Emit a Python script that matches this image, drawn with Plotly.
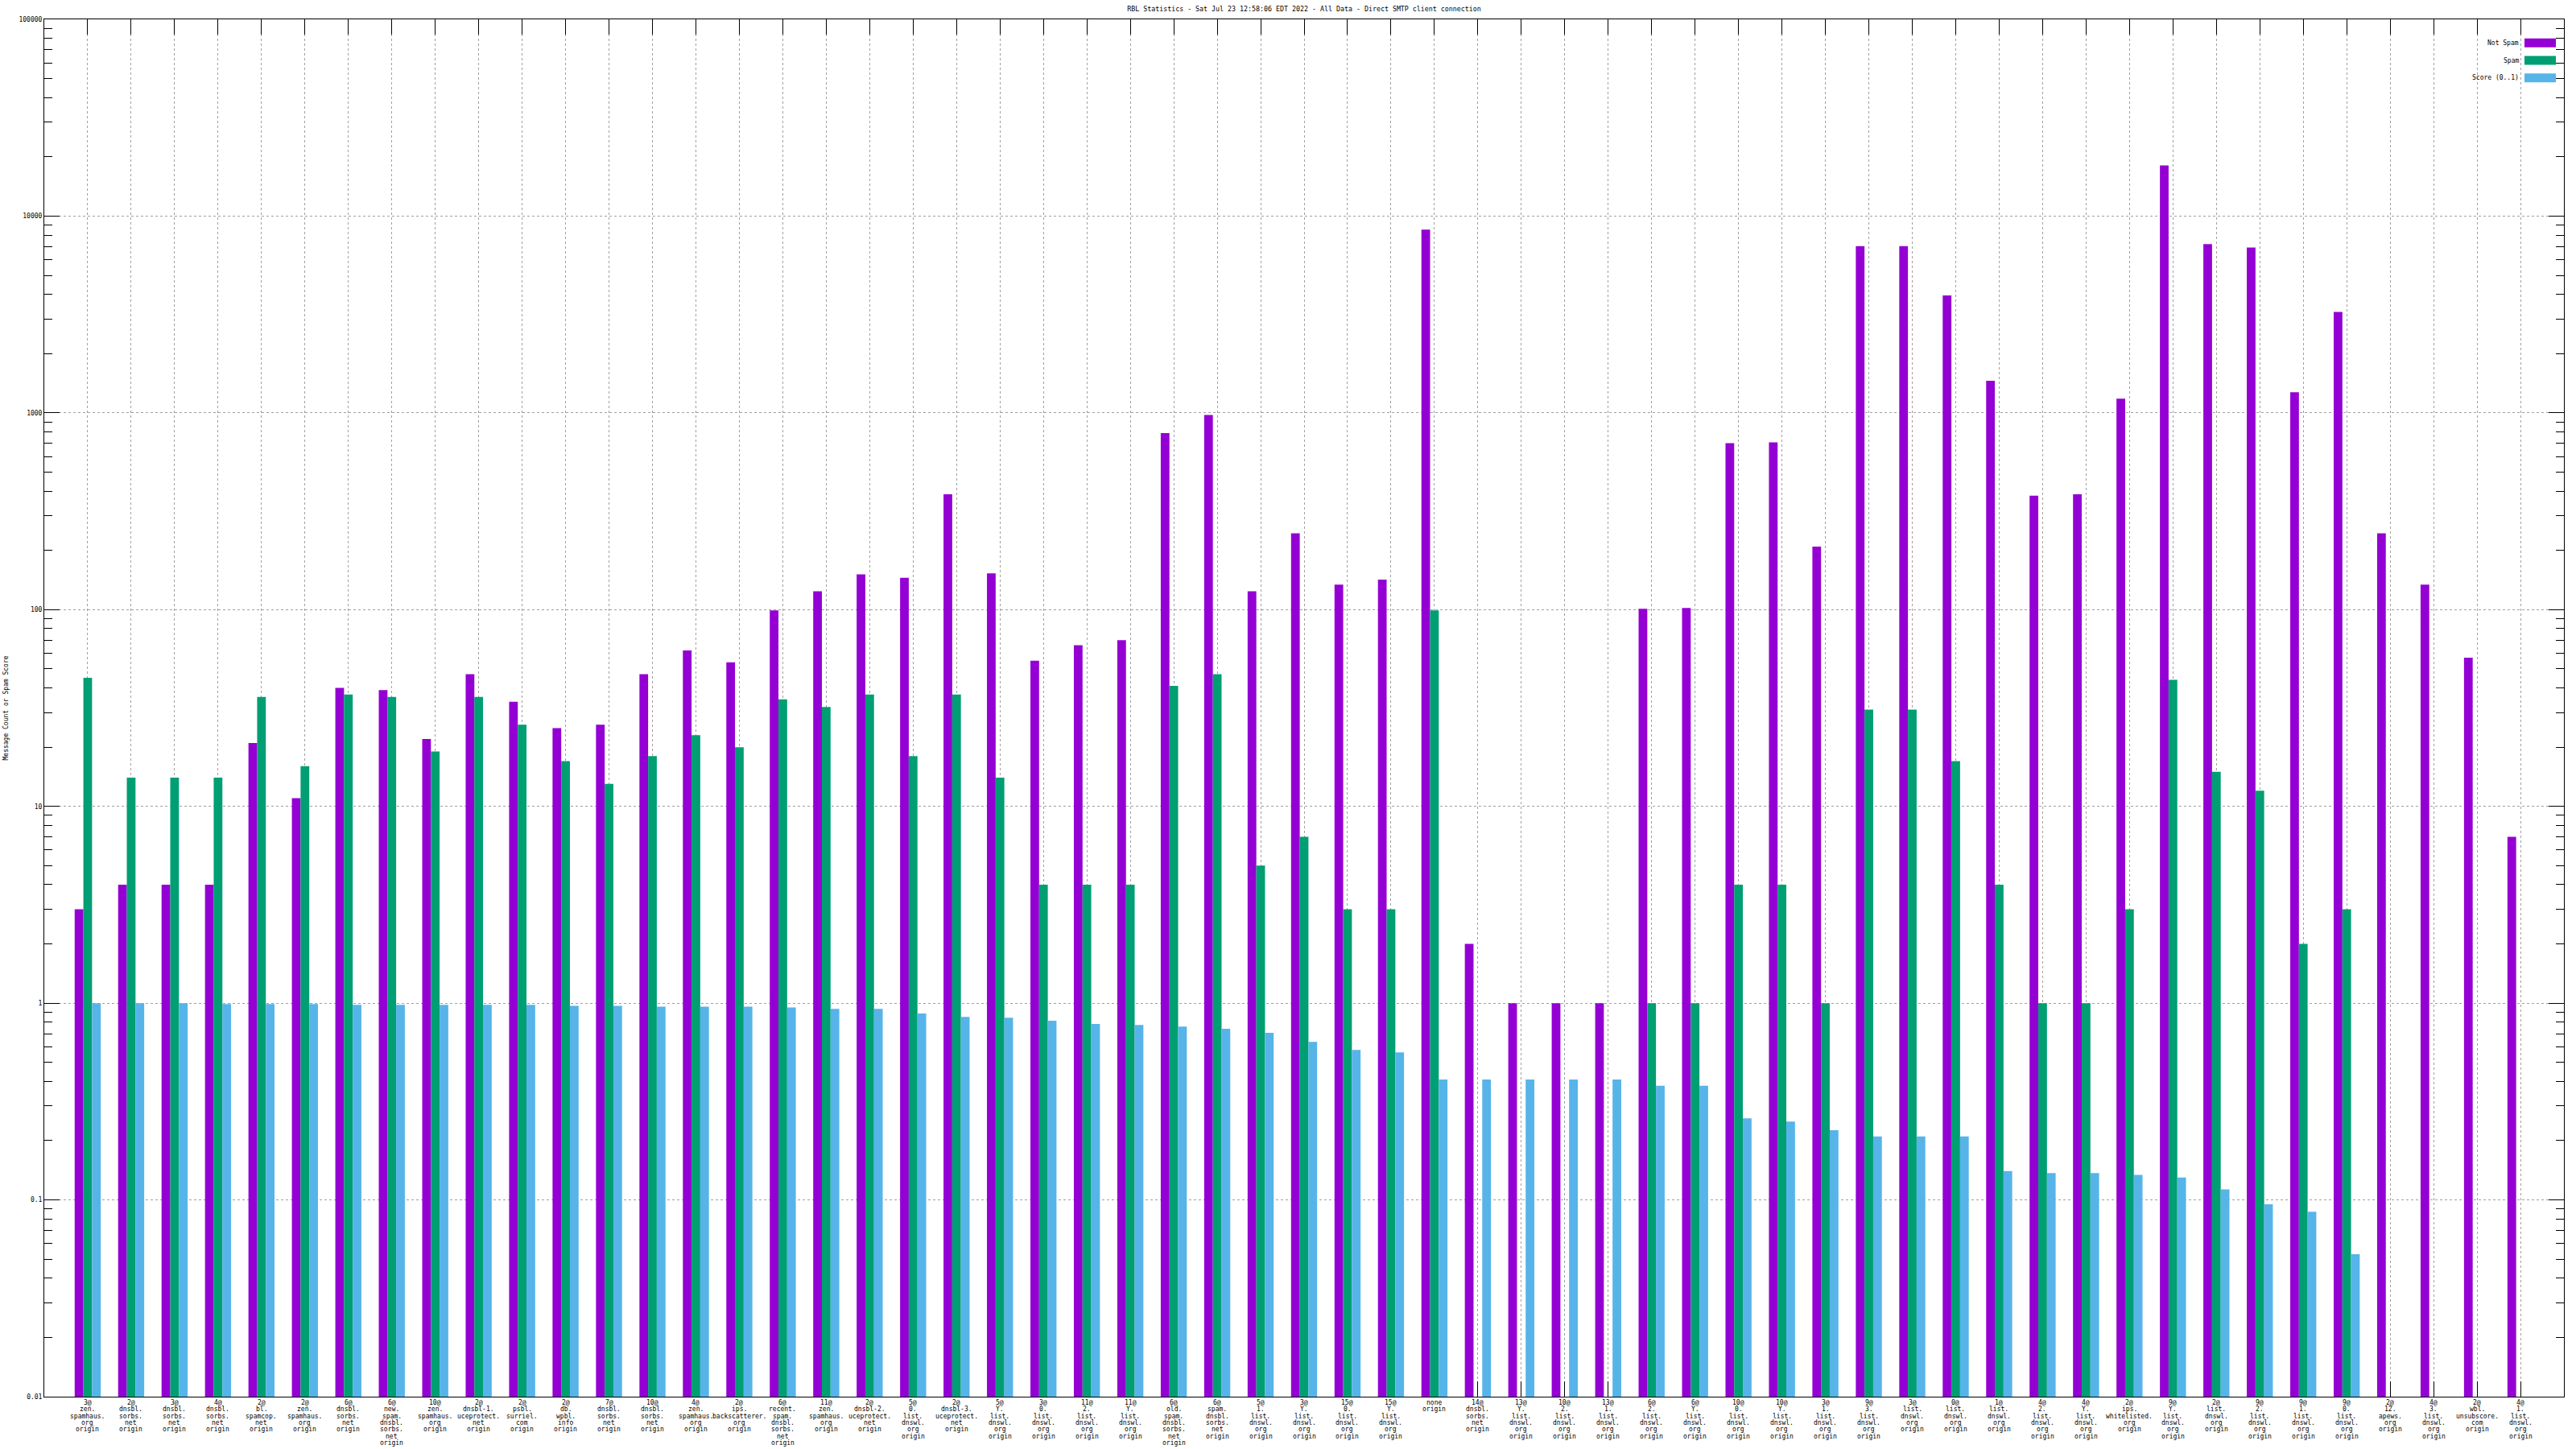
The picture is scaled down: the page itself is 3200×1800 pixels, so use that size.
import plotly.graph_objects as go

labels = [
    "3@\nzen.\nspamhaus.\norg\norigin",
    "2@\ndnsbl.\nsorbs.\nnet\norigin",
    "3@\ndnsbl.\nsorbs.\nnet\norigin",
    "4@\ndnsbl.\nsorbs.\nnet\norigin",
    "2@\nbl.\nspamcop.\nnet\norigin",
    "2@\nzen.\nspamhaus.\norg\norigin",
    "6@\ndnsbl.\nsorbs.\nnet\norigin",
    "6@\nnew.\nspam.\ndnsbl.\nsorbs.\nnet\norigin",
    "10@\nzen.\nspamhaus.\norg\norigin",
    "2@\ndnsbl-1.\nuceprotect.\nnet\norigin",
    "2@\npsbl.\nsurriel.\ncom\norigin",
    "2@\ndb.\nwpbl.\ninfo\norigin",
    "7@\ndnsbl.\nsorbs.\nnet\norigin",
    "10@\ndnsbl.\nsorbs.\nnet\norigin",
    "4@\nzen.\nspamhaus.\norg\norigin",
    "2@\nips.\nbackscatterer.\norg\norigin",
    "6@\nrecent.\nspam.\ndnsbl.\nsorbs.\nnet\norigin",
    "11@\nzen.\nspamhaus.\norg\norigin",
    "2@\ndnsbl-2.\nuceprotect.\nnet\norigin",
    "5@\n0.\nlist.\ndnswl.\norg\norigin",
    "2@\ndnsbl-3.\nuceprotect.\nnet\norigin",
    "5@\nY.\nlist.\ndnswl.\norg\norigin",
    "3@\n0.\nlist.\ndnswl.\norg\norigin",
    "11@\n2.\nlist.\ndnswl.\norg\norigin",
    "11@\nY.\nlist.\ndnswl.\norg\norigin",
    "6@\nold.\nspam.\ndnsbl.\nsorbs.\nnet\norigin",
    "6@\nspam.\ndnsbl.\nsorbs.\nnet\norigin",
    "5@\n1.\nlist.\ndnswl.\norg\norigin",
    "3@\nY.\nlist.\ndnswl.\norg\norigin",
    "15@\n0.\nlist.\ndnswl.\norg\norigin",
    "15@\nY.\nlist.\ndnswl.\norg\norigin",
    "none\norigin",
    "14@\ndnsbl.\nsorbs.\nnet\norigin",
    "13@\nY.\nlist.\ndnswl.\norg\norigin",
    "10@\n2.\nlist.\ndnswl.\norg\norigin",
    "13@\n1.\nlist.\ndnswl.\norg\norigin",
    "6@\n2.\nlist.\ndnswl.\norg\norigin",
    "6@\nY.\nlist.\ndnswl.\norg\norigin",
    "10@\n0.\nlist.\ndnswl.\norg\norigin",
    "10@\nY.\nlist.\ndnswl.\norg\norigin",
    "3@\n1.\nlist.\ndnswl.\norg\norigin",
    "9@\n3.\nlist.\ndnswl.\norg\norigin",
    "3@\nlist.\ndnswl.\norg\norigin",
    "0@\nlist.\ndnswl.\norg\norigin",
    "1@\nlist.\ndnswl.\norg\norigin",
    "4@\n2.\nlist.\ndnswl.\norg\norigin",
    "4@\nY.\nlist.\ndnswl.\norg\norigin",
    "2@\nips.\nwhitelisted.\norg\norigin",
    "9@\nY.\nlist.\ndnswl.\norg\norigin",
    "2@\nlist.\ndnswl.\norg\norigin",
    "9@\n2.\nlist.\ndnswl.\norg\norigin",
    "9@\n1.\nlist.\ndnswl.\norg\norigin",
    "9@\n0.\nlist.\ndnswl.\norg\norigin",
    "2@\n12.\napews.\norg\norigin",
    "4@\n3.\nlist.\ndnswl.\norg\norigin",
    "2@\nwbl.\nunsubscore.\ncom\norigin",
    "4@\n1.\nlist.\ndnswl.\norg\norigin",
]

not_spam = [3, 4, 4, 4, 21, 11, 40, 39, 22, 47,
            34, 25, 26, 47, 62, 54, 99, 124, 151, 145,
            386, 153, 55, 66, 70, 789, 975, 124, 244, 134,
            142, 8530, 2, 1, 1, 1, 101, 102, 702, 708,
            209, 7030, 7030, 3950, 1457, 379, 386, 1180, 18100, 7200,
            6920, 1274, 3260, 244, 134, 57, 7]

spam = [45, 14, 14, 14, 36, 16, 37, 36, 19, 36,
        26, 17, 13, 18, 23, 20, 35, 32, 37, 18,
        37, 14, 4, 4, 4, 41, 47, 5, 7, 3,
        3, 99, None, None, None, None, 1, 1, 4, 4,
        1, 31, 31, 17, 4, 1, 1, 3, 44, 15,
        12, 2, 3, None, None, None, None]

score = [1.0, 1.0, 1.0, 0.99, 0.99, 0.99, 0.98, 0.98, 0.98, 0.98,
         0.98, 0.97, 0.97, 0.96, 0.96, 0.96, 0.95, 0.936, 0.936, 0.885,
         0.852, 0.844, 0.813, 0.783, 0.775, 0.761, 0.740, 0.706, 0.636, 0.579,
         0.563, 0.409, 0.409, 0.409, 0.409, 0.409, 0.38, 0.38, 0.26, 0.25,
         0.226, 0.21, 0.21, 0.21, 0.14, 0.137, 0.137, 0.134, 0.13, 0.113,
         0.095, 0.087, 0.053, None, None, None, None]

series_names = ["Not Spam", "Spam", "Score (0..1)"]
colors = ["#9400D3", "#009E73", "#56B4E9"]

y_tick_vals = [0.01, 0.1, 1, 10, 100, 1000, 10000, 100000]
y_tick_text = ["0.01", "0.1", "1", "10", "100", "1000", "10000", "100000"]

title_text = "RBL Statistics - Sat Jul 23 12:58:06 EDT 2022 - All Data - Direct SMTP client connection"
y_title = "Message Count or Spam Score"

FONT = "DejaVu Sans Mono"
W, H = 3200, 1800
ML, MR, MT, MB = 55, 15, 24, 65

x = list(range(len(labels)))
fig = go.Figure()
for name, vals, c in zip(series_names, [not_spam, spam, score], colors):
    fig.add_trace(go.Bar(x=x, y=vals, name=name, marker=dict(color=c, line=dict(width=0)),
                         showlegend=False))

minor_vals = []
for e in range(-2, 5):
    for m in range(2, 10):
        minor_vals.append(m * 10 ** e)

annotations = []
for i, lab in enumerate(labels):
    for k, line in enumerate(lab.split("\n")):
        annotations.append(dict(
            x=i, xref="x", y=0, yref="paper", yanchor="middle", xanchor="center",
            yshift=-(7.5 + 8.33 * k), text=line, showarrow=False,
            font=dict(family=FONT, size=8, color="black")))

# y-axis title
annotations.append(dict(
    x=0, xref="paper", y=0.5, yref="paper", xanchor="center", yanchor="middle",
    xshift=-48, text=y_title, textangle=-90, showarrow=False,
    font=dict(family=FONT, size=8, color="black")))

# legend (text right-aligned, swatch on the right)
shapes = []
leg_offsets = [29.3, 51.0, 72.7]
for name, c, off in zip(series_names, colors, leg_offsets):
    annotations.append(dict(
        x=1, xref="paper", y=1, yref="paper", xanchor="right", yanchor="middle",
        xshift=-54, yshift=-off, text=name, showarrow=False,
        font=dict(family=FONT, size=8, color="black")))
    shapes.append(dict(
        type="rect", xref="paper", yref="paper", xsizemode="pixel", ysizemode="pixel",
        xanchor=1, yanchor=1, x0=-49, x1=-10, y0=-off - 5.5, y1=-off + 5.5,
        fillcolor=c, line=dict(width=0)))

fig.update_layout(
    width=W, height=H,
    margin=dict(l=ML, r=MR, t=MT, b=MB, pad=0),
    paper_bgcolor="white", plot_bgcolor="white",
    barmode="group", bargap=0.4, bargroupgap=0,
    font=dict(family=FONT, size=8, color="black"),
    title=dict(text=title_text, x=(ML + (W - MR)) / 2 / W, xanchor="center",
               y=1 - 11 / H, yanchor="middle", yref="container",
               font=dict(family=FONT, size=8.3, color="black")),
    annotations=annotations,
    shapes=shapes,
    xaxis=dict(
        range=[-1, len(labels)], tickmode="array", tickvals=x, showticklabels=False,
        ticks="inside", ticklen=19, tickcolor="black", tickwidth=1,
        showline=True, linecolor="black", linewidth=1, mirror="allticks",
        showgrid=True, gridcolor="#a0a0a0", griddash="dot", gridwidth=1,
        zeroline=False, layer="below traces", fixedrange=True),
    yaxis=dict(
        type="log", range=[-2, 5], tickmode="array", tickvals=y_tick_vals, ticktext=y_tick_text,
        ticks="inside", ticklen=19, tickcolor="black", tickwidth=1,
        showline=True, linecolor="black", linewidth=1, mirror="allticks",
        showgrid=True, gridcolor="#a0a0a0", griddash="dot", gridwidth=1,
        zeroline=False, layer="below traces", fixedrange=True,
        tickfont=dict(family=FONT, size=8, color="black"),
        minor=dict(tickmode="array", tickvals=minor_vals, ticks="inside", ticklen=10,
                   tickcolor="black", showgrid=False)),
)

fig.write_html("out.html", config={"displayModeBar": False},
               post_script="document.body.style.margin='0';document.body.style.overflow='hidden';")
